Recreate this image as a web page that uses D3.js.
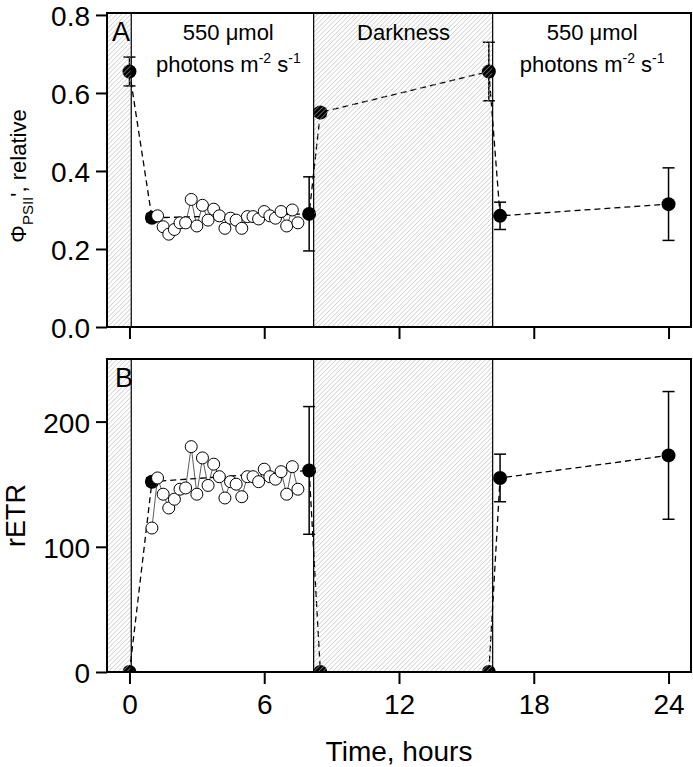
<!DOCTYPE html>
<html>
<head>
<meta charset="utf-8">
<script src="https://cdn.jsdelivr.net/npm/d3@7"></script>
<style>
  html, body { margin: 0; padding: 0; background: #fff; }
  svg { display: block; font-family: "Liberation Sans", Arial, sans-serif; }
</style>
</head>
<body>
<svg id="chart" width="693" height="767"></svg>
<script>
// ---------------- data ----------------
const hoursMain = [0, 1, 8, 8.5, 16, 16.5, 24];
const phiMean   = [0.655, 0.28, 0.29, 0.55, 0.655, 0.285, 0.315];
const phiErr    = [0.037, 0.01, 0.095, 0.01, 0.075, 0.035, 0.093];
const etrMean   = [0, 152, 161, 0, 0, 155, 173];
const etrErr    = [0, 3, 51, 0, 0, 19, 51];

const hoursOpenA = [1.25, 1.5, 1.75, 2, 2.25, 2.5, 2.75, 3, 3.25, 3.5, 3.75, 4, 4.25,
                    4.5, 4.75, 5, 5.25, 5.5, 5.75, 6, 6.25, 6.5, 6.75, 7, 7.25, 7.5];
const phiOpen = [0.285, 0.257, 0.238, 0.250, 0.267, 0.267, 0.327, 0.259, 0.312, 0.274,
                 0.302, 0.285, 0.253, 0.279, 0.274, 0.253, 0.283, 0.283, 0.277, 0.296,
                 0.285, 0.279, 0.296, 0.259, 0.300, 0.267];

const hoursOpenB = [1, 1.25, 1.5, 1.75, 2, 2.25, 2.5, 2.75, 3, 3.25, 3.5, 3.75, 4, 4.25,
                    4.5, 4.75, 5, 5.25, 5.5, 5.75, 6, 6.25, 6.5, 6.75, 7, 7.25, 7.5];
const etrOpen = [115, 155, 142, 131, 138, 146, 147, 180, 142, 171, 149, 166, 156, 139,
                 152, 150, 140, 156, 156, 152, 162, 156, 154, 160, 142, 164, 146];

const darkPeriods = [[-1, 0.08], [8.2, 16.17]];
const xTicks   = [0, 6, 12, 18, 24];
const phiTicks = [0, 0.2, 0.4, 0.6, 0.8];
const etrTicks = [0, 100, 200];
const periodLabels = [
  { hour: 4.4,  lines: ["550 \u03bcmol", "photons"] , sup: true },
  { hour: 12.2, lines: ["Darkness"], sup: false },
  { hour: 20.6, lines: ["550 \u03bcmol", "photons"], sup: true }
];

// ---------------- layout ----------------
const svg = d3.select("#chart");
const x = d3.scaleLinear().domain([-1, 25]).range([107, 691]);
const yA = d3.scaleLinear().domain([0, 0.805]).range([327, 13]);
const yB = d3.scaleLinear().domain([0, 250]).range([672, 359]);

const defs = svg.append("defs");
const pat = defs.append("pattern").attr("id", "hatch")
  .attr("patternUnits", "userSpaceOnUse").attr("width", 3.3).attr("height", 3.3)
  .attr("patternTransform", "rotate(45)");
pat.append("line").attr("x1", 0).attr("y1", 0).attr("x2", 0).attr("y2", 3.3)
  .attr("stroke", "#b4b4b4").attr("stroke-width", 1);

function panel(id, y, ticks, tickFmt, hours, mean, err, openH, openV, letter, letterX) {
  const [x0, x1] = x.range();
  const [yb, yt] = y.range();
  defs.append("clipPath").attr("id", "clip" + id)
    .append("rect").attr("x", x0).attr("y", yt).attr("width", x1 - x0).attr("height", yb - yt);
  const g = svg.append("g");
  const plot = g.append("g").attr("clip-path", `url(#clip${id})`);

  const pts = hours.map((h, i) => ({ h, v: mean[i], e: err[i] }));
  const opts = openH.map((h, i) => ({ h, v: openV[i] }));

  // dashed connecting line
  plot.append("path").datum(pts)
    .attr("d", d3.line().x(d => x(d.h)).y(d => y(d.v)))
    .attr("fill", "none").attr("stroke", "#000").attr("stroke-width", 1.3)
    .attr("stroke-dasharray", "6,4");

  // error bars
  const eb = plot.append("g").attr("stroke", "#000").attr("stroke-width", 1.5);
  pts.filter(d => d.e > 0).forEach(d => {
    const cx = x(d.h);
    eb.append("line").attr("x1", cx).attr("x2", cx).attr("y1", y(d.v - d.e)).attr("y2", y(d.v + d.e));
    [d.v - d.e, d.v + d.e].forEach(v => {
      eb.append("line").attr("x1", cx - 6).attr("x2", cx + 6).attr("y1", y(v)).attr("y2", y(v));
    });
  });

  // filled circles
  plot.append("g").selectAll("circle").data(pts).join("circle")
    .attr("cx", d => x(d.h)).attr("cy", d => y(d.v)).attr("r", 7)
    .attr("fill", "#000");

  // open series line + circles
  plot.append("path").datum(opts)
    .attr("d", d3.line().x(d => x(d.h)).y(d => y(d.v)))
    .attr("fill", "none").attr("stroke", "#333").attr("stroke-width", 0.8);
  plot.append("g").selectAll("circle").data(opts).join("circle")
    .attr("cx", d => x(d.h)).attr("cy", d => y(d.v)).attr("r", 6)
    .attr("fill", "#fff").attr("stroke", "#000").attr("stroke-width", 1);

  // hatched dark periods
  plot.append("g").selectAll("rect").data(darkPeriods).join("rect")
    .attr("x", d => x(d[0])).attr("width", d => x(d[1]) - x(d[0]))
    .attr("y", yt).attr("height", yb - yt).attr("fill", "url(#hatch)");
  g.append("g").selectAll("line").data(darkPeriods.flat().filter(h => h > -1)).join("line")
    .attr("x1", d => x(d)).attr("x2", d => x(d)).attr("y1", yt).attr("y2", yb)
    .attr("stroke", "#000").attr("stroke-width", 1.2);

  // frame
  g.append("rect").attr("x", x0).attr("y", yt).attr("width", x1 - x0).attr("height", yb - yt)
    .attr("fill", "none").attr("stroke", "#000").attr("stroke-width", 2);

  // axes
  const ax = g.append("g").attr("transform", `translate(${x0},0)`)
    .call(d3.axisLeft(y).tickValues(ticks).tickFormat(tickFmt).tickSize(11).tickPadding(6).tickSizeOuter(0));
  const bx = g.append("g").attr("transform", `translate(0,${yb})`)
    .call(d3.axisBottom(x).tickValues(xTicks).tickSize(12).tickPadding(10).tickSizeOuter(0));
  [ax, bx].forEach(a => {
    a.select(".domain").remove();
    a.selectAll(".tick line").attr("stroke", "#000").attr("stroke-width", 2);
    a.selectAll(".tick text").attr("fill", "#000").style("font-size", "28px")
      .style("font-family", "'Liberation Sans', Arial, sans-serif");
  });
  ax.selectAll(".tick text").attr("dy", "0.38em");
  if (id === "A") bx.selectAll(".tick text").remove();

  g.append("text").attr("x", letterX).attr("y", yt + 28).style("font-size", "27px").text(letter);
  return g;
}

panel("A", yA, phiTicks, d3.format(".1f"), hoursMain, phiMean, phiErr, hoursOpenA, phiOpen, "A", 112);
panel("B", yB, etrTicks, d3.format("d"), hoursMain, etrMean, etrErr, hoursOpenB, etrOpen, "B", 115);

// period labels
periodLabels.forEach(p => {
  const t = svg.append("text").attr("text-anchor", "middle").style("font-size", "22px");
  t.append("tspan").attr("x", x(p.hour)).attr("y", 40).text(p.lines[0]);
  if (p.sup) {
    const t2 = svg.append("text").attr("text-anchor", "middle").attr("x", x(p.hour)).attr("y", 72)
      .style("font-size", "22px");
    t2.append("tspan").text("photons m");
    t2.append("tspan").attr("dy", -9).style("font-size", "14px").text("-2");
    t2.append("tspan").attr("dy", 9).text(" s");
    t2.append("tspan").attr("dy", -9).style("font-size", "14px").text("-1");
  }
});

// axis titles
const ta = svg.append("text").attr("text-anchor", "middle")
  .attr("transform", `translate(26,176) rotate(-90)`)
  .style("font-size", "22px");
ta.append("tspan").text("\u03a6");
ta.append("tspan").attr("dy", 7).style("font-size", "15px").text("PSII");
ta.append("tspan").attr("dy", -7).text("', relative");

svg.append("text").attr("text-anchor", "middle")
  .attr("transform", `translate(25,${(yB.range()[0] + yB.range()[1]) / 2}) rotate(-90)`)
  .style("font-size", "27px").text("rETR");

svg.append("text").attr("text-anchor", "middle").attr("x", (x.range()[0] + x.range()[1]) / 2).attr("y", 761)
  .style("font-size", "28px").text("Time, hours");
</script>
</body>
</html>
